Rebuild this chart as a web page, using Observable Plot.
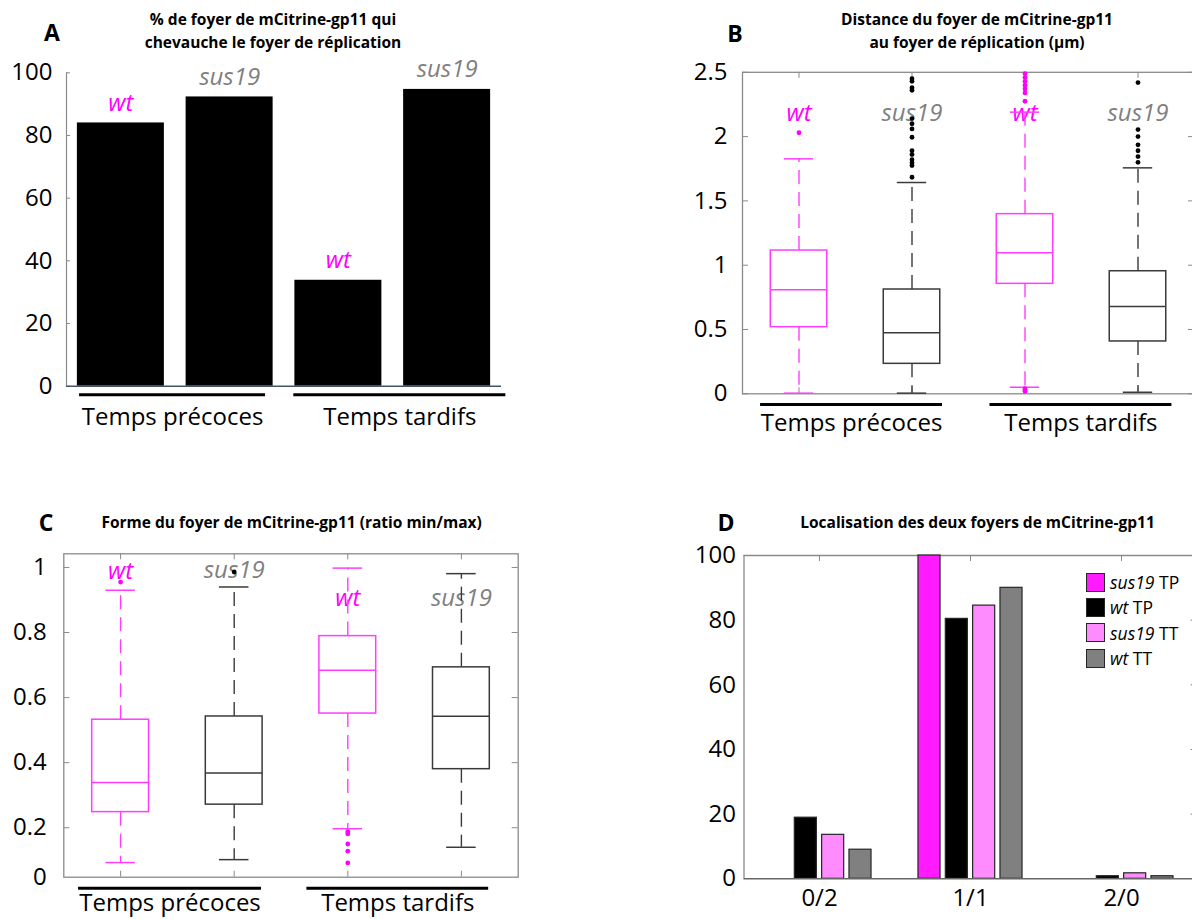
<!DOCTYPE html>
<html><head><meta charset="utf-8">
<script src="https://cdn.jsdelivr.net/npm/d3@7"></script>
<script src="https://cdn.jsdelivr.net/npm/@observablehq/plot@0.6"></script>
<style>
body{margin:0;background:#fff;overflow:hidden;font-family:'Open Sans',sans-serif;}
#page{position:relative;width:1192px;height:919px;overflow:hidden;background:#fff;}
.ttl{position:absolute;transform:translate(-50%,-50%);white-space:nowrap;font-weight:700;font-size:15.5px;line-height:23px;text-align:center;color:#000;}
.let{position:absolute;transform:translate(-50%,-50%);font-weight:700;font-size:23px;color:#000;}
.leg{position:absolute;font-size:17.5px;color:#000;}
.leg .row{display:flex;align-items:center;height:25.3px;white-space:nowrap;}
.leg .sw{width:17px;height:17px;border:1.5px solid #262626;margin-right:5px;box-sizing:content-box;}
</style></head><body><div id="page"></div>
<script>
// ---------------- DATA ----------------
const groupNames = ["Temps précoces", "Temps tardifs"];

// Panel A : % overlap
const aSeries = ["wt TP", "sus19 TP", "wt TT", "sus19 TT"];
const aStrain = ["wt", "sus19", "wt", "sus19"];
const aValues = [84.0, 92.3, 33.8, 94.7];
const aTicks = [0, 20, 40, 60, 80, 100];

// Panel B : distance (µm) box plots
const boxStrain = ["wt", "sus19", "wt", "sus19"];
const bLow  = [0.005, 0.005, 0.051, 0.012];
const bQ1   = [0.518, 0.233, 0.855, 0.407];
const bMed  = [0.809, 0.474, 1.096, 0.679];
const bQ3   = [1.114, 0.811, 1.397, 0.953];
const bHigh = [1.827, 1.643, 2.19, 1.757];
const bOutliers = [
  [2.03],
  [1.684, 1.775, 1.796, 1.82, 1.86, 1.89, 1.995, 2.06, 2.10, 2.14, 2.36, 2.38, 2.43, 2.45],
  [0.02, 0.03, 0.04, 2.275, 2.34, 2.37, 2.40, 2.43, 2.46, 2.49],
  [1.80, 1.845, 1.89, 1.936, 2.0, 2.055, 2.42]
];
const bTicks = [0, 0.5, 1, 1.5, 2, 2.5];

// Panel C : shape ratio box plots
const cLow  = [0.093, 0.102, 0.197, 0.14];
const cQ1   = [0.248, 0.271, 0.551, 0.38];
const cMed  = [0.339, 0.368, 0.684, 0.543];
const cQ3   = [0.532, 0.542, 0.789, 0.693];
const cHigh = [0.93, 0.94, 0.998, 0.981];
const cOutliers = [[0.955], [0.986], [0.188, 0.181, 0.15, 0.128, 0.092], []];
const cTicks = [0.2, 0.4, 0.6, 0.8, 1];

// Panel D : localisation of two foci
const dCategories = ["0/2", "1/1", "2/0"];
const dStrain = ["sus19", "wt", "sus19", "wt"];
const dTime = ["TP", "TP", "TT", "TT"];
const dSus19TP = [0, 100, 0];
const dWtTP = [18.9, 80.4, 0.8];
const dSus19TT = [13.6, 84.5, 1.7];
const dWtTT = [9.0, 90.0, 0.8];
const dTicks = [0, 20, 40, 60, 80, 100];

// ---------------- STYLE / LAYOUT ----------------
const FONT = "'Open Sans', sans-serif";
const labelColor = {wt: "#ff00ff", sus19: "#7f7f7f"};
const boxColor = {wt: "#ff3dff", sus19: "#3a3a3a"};
const dColors = ["#ff1aff", "#000000", "#ff8cff", "#808080"];
const frameGray = "#8a8a8a";
const page = document.getElementById("page");

function mk(box, opts) {
  const svg = Plot.plot({
    width: box.width, height: box.height,
    marginLeft: box.fx0 - box.left, marginRight: box.left + box.width - box.fx1,
    marginTop: box.fy0 - box.top, marginBottom: box.top + box.height - box.fy1,
    style: {fontFamily: FONT, fontSize: "24px", background: "transparent", overflow: "visible", color: "#000"},
    color: {type: "identity"},
    ...opts
  });
  svg.style.position = "absolute";
  svg.style.left = box.left + "px";
  svg.style.top = box.top + "px";
  svg.style.maxWidth = "none";
  page.appendChild(svg);
}
function innerTicks(box, yT, xT, L, sides, stroke = frameGray) {
  const fw = box.fx1 - box.fx0, fh = box.fy1 - box.fy0, m = [];
  if (sides.includes("l")) m.push(Plot.ruleY(yT, {y: d => d, insetRight: fw - L, stroke}));
  if (sides.includes("r")) m.push(Plot.ruleY(yT, {y: d => d, insetLeft: fw - L, stroke}));
  if (sides.includes("t")) m.push(Plot.ruleX(xT, {x: d => d, insetBottom: fh - L, stroke}));
  if (sides.includes("b")) m.push(Plot.ruleX(xT, {x: d => d, insetTop: fh - L, stroke}));
  return m;
}
function groupMarks(y0, from, to, lineDy, textDy) {
  const g = groupNames.map((name, i) => ({name, a: from[i], b: to[i]}));
  return [
    Plot.ruleY(g, {y: y0, x1: d => d.a, x2: d => d.b, dy: lineDy, stroke: "#000", strokeWidth: 3}),
    Plot.text(g, {x: d => (d.a + d.b) / 2, y: y0, dy: textDy, text: d => d.name, fontSize: 24, fill: "#000"})
  ];
}
const BW = 0.25, CW = 0.13, DASH = "14,8";
function boxMarks(low, q1, med, q3, high, outs) {
  const idx = low.map((_, i) => i);
  const X = i => i + 1;
  const col = i => boxColor[boxStrain[i]];
  const outRows = outs.flatMap((arr, i) => arr.map(v => ({i, v})));
  return [
    Plot.ruleX(idx, {x: X, y1: i => q3[i], y2: i => high[i], stroke: col, strokeWidth: 1.4, strokeDasharray: DASH}),
    Plot.ruleX(idx, {x: X, y1: i => q1[i], y2: i => low[i], stroke: col, strokeWidth: 1.4, strokeDasharray: DASH}),
    Plot.rect(idx, {x1: i => X(i) - BW, x2: i => X(i) + BW, y1: i => q1[i], y2: i => q3[i], stroke: col, strokeWidth: 1.5, fill: "none"}),
    Plot.ruleY(idx, {y: i => med[i], x1: i => X(i) - BW, x2: i => X(i) + BW, stroke: col, strokeWidth: 1.5}),
    Plot.ruleY(idx, {y: i => high[i], x1: i => X(i) - CW, x2: i => X(i) + CW, stroke: col, strokeWidth: 1.5}),
    Plot.ruleY(idx, {y: i => low[i], x1: i => X(i) - CW, x2: i => X(i) + CW, stroke: col, strokeWidth: 1.5}),
    Plot.dot(outRows, {x: d => d.i + 1, y: d => d.v, r: 2.4, fill: d => boxStrain[d.i] === "wt" ? "#ff00ff" : "#000", stroke: null})
  ];
}
function strainLabels(y) {
  return Plot.text(boxStrain, {x: (d, i) => i + 1, y: (d, i) => y[i], text: d => d, fill: d => labelColor[d],
    fontStyle: "italic", fontSize: 24});
}

// ---------------- PANEL A ----------------
const boxA = {left: 0, top: 0, width: 596, height: 440, fx0: 66, fx1: 501, fy0: 72.3, fy1: 385.7};
mk(boxA, {
  x: {domain: [0.5, 4.5], axis: null},
  y: {domain: [0, 100], axis: null},
  marks: [
    Plot.rect(aValues, {x1: (d, i) => i + 1 - 0.4, x2: (d, i) => i + 1 + 0.4, y1: 0, y2: d => d, fill: "#000"}),
    Plot.ruleX([0.5], {stroke: frameGray, strokeWidth: 1.2}),
    ...innerTicks(boxA, aTicks, [], 4, "l"),
    Plot.ruleY([0], {stroke: "#44546a", strokeWidth: 1.5}),
    Plot.axisY({ticks: aTicks, tickSize: 0, tickPadding: 14, fontSize: 24, tickFormat: d => `${d}`}),
    Plot.text(aValues, {x: (d, i) => i + 1, y: d => d, dy: -20, text: (d, i) => aStrain[i],
      fill: (d, i) => labelColor[aStrain[i]], fontStyle: "italic", fontSize: 24}),
    ...groupMarks(0, [0.62, 2.59], [2.33, 4.54], 8.6, 31)
  ]
});

// ---------------- PANEL B ----------------
const boxB = {left: 596, top: 0, width: 598, height: 440, fx0: 742, fx1: 1194, fy0: 71.8, fy1: 393.3};
mk(boxB, {
  x: {domain: [0.5, 4.5], axis: null},
  y: {domain: [0, 2.5], axis: null},
  marks: [
    Plot.frame({stroke: frameGray, strokeWidth: 1.3}),
    ...innerTicks(boxB, bTicks, [1, 2, 3, 4], 6, "lrtb"),
    Plot.axisY({ticks: bTicks, tickSize: 0, tickPadding: 15, fontSize: 24, tickFormat: d => `${d}`}),
    strainLabels([2.18, 2.18, 2.18, 2.18]),
    ...boxMarks(bLow, bQ1, bMed, bQ3, bHigh, bOutliers),
    ...groupMarks(0, [0.66, 2.69], [2.27, 4.3], 10.7, 30)
  ]
});

// ---------------- PANEL C ----------------
const boxC = {left: 0, top: 460, width: 596, height: 459, fx0: 63.3, fx1: 517.7, fy0: 553.3, fy1: 876.7};
const cDomain = [0.048, 1.042];
mk(boxC, {
  x: {domain: [0.5, 4.5], axis: null},
  y: {domain: cDomain, axis: null},
  marks: [
    Plot.frame({stroke: frameGray, strokeWidth: 1.3}),
    ...innerTicks(boxC, cTicks, [1, 2, 3, 4], 6, "lrtb"),
    Plot.axisY({ticks: [cDomain[0], ...cTicks], tickSize: 0, tickPadding: 17, fontSize: 24,
      tickFormat: d => d === cDomain[0] ? "0" : `${d}`}),
    strainLabels([0.989, 0.991, 0.904, 0.904]),
    ...boxMarks(cLow, cQ1, cMed, cQ3, cHigh, cOutliers),
    ...groupMarks(cDomain[0], [0.63, 2.64], [2.24, 4.24], 11, 26.5)
  ]
});

// ---------------- PANEL D ----------------
const boxD = {left: 596, top: 460, width: 601, height: 459, fx0: 743.5, fx1: 1196.5, fy0: 555, fy1: 878.3};
const dSeriesValues = [dSus19TP, dWtTP, dSus19TT, dWtTT];
const dRows = dSeriesValues.flatMap((vals, k) => vals.map((v, c) => ({c, k, v}))).filter(r => r.v > 0);
const D_STEP = 0.181, D_HALF = 0.073;
mk(boxD, {
  x: {domain: [0.5, 3.5], axis: null},
  y: {domain: [0, 100], axis: null},
  marks: [
    Plot.ruleY([100], {stroke: frameGray, strokeWidth: 1.3}),
    Plot.ruleX([0.5], {stroke: frameGray, strokeWidth: 1.3}),
    ...innerTicks(boxD, dTicks.slice(1), [1, 2, 3], 6, "rt"),
    Plot.rect(dRows, {x1: r => r.c + 1 + (r.k - 1.5) * D_STEP - D_HALF, x2: r => r.c + 1 + (r.k - 1.5) * D_STEP + D_HALF,
      y1: 0, y2: r => r.v, fill: r => dColors[r.k], stroke: "#262626", strokeWidth: 1.2}),
    Plot.ruleY([0], {stroke: "#666", strokeWidth: 1.6}),
    Plot.axisY({ticks: dTicks, tickSize: 0, tickPadding: 8, fontSize: 24, tickFormat: d => `${d}`}),
    Plot.text(dCategories, {x: (d, i) => i + 1, y: 0, dy: 20, text: d => d, fontSize: 24, fill: "#000"})
  ]
});

// legend D
const leg = document.createElement("div");
leg.className = "leg";
leg.style.left = "1086px"; leg.style.top = "569.5px";
dStrain.forEach((s, k) => {
  const row = document.createElement("div"); row.className = "row";
  const sw = document.createElement("div"); sw.className = "sw"; sw.style.background = dColors[k];
  const tx = document.createElement("span");
  tx.innerHTML = `<i>${s}</i> ${dTime[k]}`;
  row.appendChild(sw); row.appendChild(tx); leg.appendChild(row);
});
page.appendChild(leg);

// titles and letters
function addDiv(cls, html, x, y) {
  const d = document.createElement("div"); d.className = cls; d.innerHTML = html;
  d.style.left = x + "px"; d.style.top = y + "px"; page.appendChild(d);
}
addDiv("ttl", "% de foyer de mCitrine-gp11 qui<br>chevauche le foyer de réplication", 273, 30.5);
addDiv("ttl", "Distance du foyer de mCitrine-gp11<br>au foyer de réplication (µm)", 977, 30.5);
addDiv("ttl", "Forme du foyer de mCitrine-gp11 (ratio min/max)", 291.6, 521.7);
addDiv("ttl", "Localisation des deux foyers de mCitrine-gp11", 977.5, 521.7);
addDiv("let", "A", 52, 31.7);
addDiv("let", "B", 735, 33.3);
addDiv("let", "C", 46, 521.7);
addDiv("let", "D", 726, 521.7);
</script></body></html>
